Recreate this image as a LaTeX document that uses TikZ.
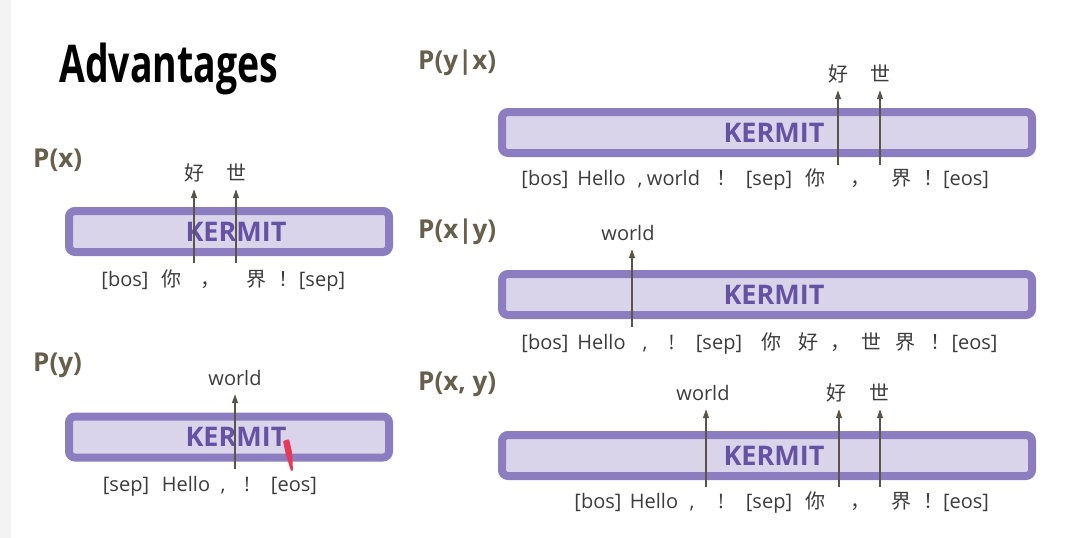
\documentclass[tikz,border=0pt]{standalone}
\usepackage{fontspec}
\setmainfont{Open Sans}
\newfontfamily\cjk{Noto Sans CJK SC}
\newfontfamily\titlefont[FakeStretch=0.72]{Open Sans}
\usetikzlibrary{arrows.meta}
\usetikzlibrary{positioning}

\definecolor{boxline}{HTML}{8B7DBF}
\definecolor{boxfill}{HTML}{D9D4E9}
\definecolor{kermitc}{HTML}{6552A5}
\definecolor{tokc}{HTML}{3C3C3C}
\definecolor{probc}{HTML}{675F4C}
\definecolor{arrowc}{HTML}{5A5548}
\definecolor{stripe}{HTML}{F3F3F3}
\definecolor{redmark}{HTML}{E8385A}

\begin{document}
\begin{tikzpicture}[x=1pt,y=-1pt,>={Triangle[length=9pt,width=6pt]},
	model/.style={draw=boxline,fill=boxfill,line width=8pt,rounded corners=6pt,
		inner sep=0pt,minimum height=41pt},
	kermit/.style={text=kermitc,inner sep=0pt,font=\fontsize{27}{30}\selectfont\bfseries},
	tok/.style={anchor=base,inner sep=0pt,text=tokc,font=\fontsize{20}{24}\selectfont},
	outtok/.style={tok,text depth=9pt},
	prob/.style={anchor=base west,inner sep=0pt,text=probc,
		font=\fontsize{26}{30}\selectfont\bfseries},
	flow/.style={->,draw=arrowc,line width=1.3pt}]
	
	\useasboundingbox (0,0) rectangle (1077,538);
	\fill[white] (0,0) rectangle (1077,538);
	\fill[stripe] (0,0) rectangle (11,538);
	
	\node[anchor=base west,inner sep=0pt,font=\fontsize{52}{56}\titlefont\bfseries] (title) at (59,82) {Advantages};
	
	% P(x)
	\node[prob] (px) at (33,167) {P(x)};
	\node[model,minimum width=320pt] (ma) at (229,231.5) {};
	\node[kermit] (ka) at (ma.center) [xshift=7pt] {KERMIT};
	\node[tok] (a1) at (125,286) {[bos]};
	\node[tok] (a2) at (171,286) {\cjk 你};
	\node[tok] (a3) at (210,286) {\cjk ，};
	\node[tok] (a4) at (256,286) {\cjk 界};
	\node[tok] (a5) at (288,286) {\cjk ！};
	\node[tok] (a6) at (322,286) {[sep]};
	\node[outtok] (ha) at (194,180) {\cjk 好};
	\node[outtok] (sa) at (236,180) {\cjk 世};
	\coordinate (ga1) at (194,263);
	\coordinate (ga2) at (236,263);
	\path
	(ga1) edge[flow] (ga1 |- ha.south)
	(ga2) edge[flow] (ga2 |- sa.south);
	
	% P(y)
	\node[prob] (py) at (33,371) {P(y)};
	\node[model,minimum width=320pt] (mb) at (229,437) {};
	\node[kermit] (kb) at (mb.center) [xshift=7pt] {KERMIT};
	\node[tok] (b1) at (126,491) {[sep]};
	\node[tok] (b2) at (186,491) {Hello};
	\node[tok] (b3) at (223,491) {,};
	\node[tok] (b4) at (247,491) {!};
	\node[tok] (b5) at (294,491) {[eos]};
	\node[outtok] (wb) at (235,385) {world};
	\coordinate (gb1) at (235,469);
	\path (gb1) edge[flow] (gb1 |- wb.south);
	\fill[redmark,rounded corners=1pt] (283,441) -- (289,439) -- (292,452)
	-- (293,471) -- (291,471) -- (286,455) -- cycle;
	
	% P(y|x)
	\node[prob] (pyx) at (418,69) {P(y|x)};
	\node[model,minimum width=530pt] (mc) at (767,132.5) {};
	\node[kermit] (kc) at (mc.center) [xshift=7pt] {KERMIT};
	\node[tok] (c1) at (545,185) {[bos]};
	\node[tok] (c2) at (601.5,185) {Hello};
	\node[tok] (c3) at (640,185) {,};
	\node[tok] (c4) at (673.5,185) {world};
	\node[tok] (c5) at (726.5,185) {\cjk ！};
	\node[tok] (c6) at (769,185) {[sep]};
	\node[tok] (c7) at (815,185) {\cjk 你};
	\node[tok] (c8) at (860,185) {\cjk ，};
	\node[tok] (c9) at (901,185) {\cjk 界};
	\node[tok] (c10) at (933,185) {\cjk ！};
	\node[tok] (c11) at (966,185) {[eos]};
	\node[outtok] (hc) at (838,81) {\cjk 好};
	\node[outtok] (sc) at (880,81) {\cjk 世};
	\coordinate (gc1) at (838,165);
	\coordinate (gc2) at (880,165);
	\path
	(gc1) edge[flow] (gc1 |- hc.south)
	(gc2) edge[flow] (gc2 |- sc.south);
	
	% P(x|y)
	\node[prob] (pxy) at (418,238) {P(x|y)};
	\node[model,minimum width=530pt] (md) at (767,294.5) {};
	\node[kermit] (kd) at (md.center) [xshift=7pt] {KERMIT};
	\node[tok] (d1) at (545,349) {[bos]};
	\node[tok] (d2) at (601.5,349) {Hello};
	\node[tok] (d3) at (645,349) {,};
	\node[tok] (d4) at (671.5,349) {!};
	\node[tok] (d5) at (719,349) {[sep]};
	\node[tok] (d6) at (771.5,349) {\cjk 你};
	\node[tok] (d7) at (808,349) {\cjk 好};
	\node[tok] (d8) at (840,349) {\cjk ，};
	\node[tok] (d9) at (871.5,349) {\cjk 世};
	\node[tok] (d10) at (905,349) {\cjk 界};
	\node[tok] (d11) at (940,349) {\cjk ！};
	\node[tok] (d12) at (974.5,349) {[eos]};
	\node[outtok] (wd) at (628,240) {world};
	\coordinate (gd1) at (632,327);
	\path (gd1) edge[flow] (gd1 |- wd.south);
	
	% P(x, y)
	\node[prob] (pj) at (418,390) {P(x, y)};
	\node[model,minimum width=530pt] (me) at (767,455.5) {};
	\node[kermit] (ke) at (me.center) [xshift=7pt] {KERMIT};
	\node[tok] (e1) at (598,508) {[bos]};
	\node[tok] (e2) at (654,508) {Hello};
	\node[tok] (e3) at (692,508) {,};
	\node[tok] (e4) at (721,508) {!};
	\node[tok] (e5) at (769,508) {[sep]};
	\node[tok] (e6) at (815,508) {\cjk 你};
	\node[tok] (e7) at (860,508) {\cjk ，};
	\node[tok] (e8) at (901,508) {\cjk 界};
	\node[tok] (e9) at (933,508) {\cjk ！};
	\node[tok] (e10) at (966,508) {[eos]};
	\node[outtok] (we) at (703,400) {world};
	\node[outtok] (he) at (836,400) {\cjk 好};
	\node[outtok] (se) at (879,400) {\cjk 世};
	\coordinate (ge1) at (706,487);
	\coordinate (ge2) at (839,487);
	\coordinate (ge3) at (880,487);
	\path
	(ge1) edge[flow] (ge1 |- we.south)
	(ge2) edge[flow] (ge2 |- he.south)
	(ge3) edge[flow] (ge3 |- se.south);
\end{tikzpicture}
\end{document}
